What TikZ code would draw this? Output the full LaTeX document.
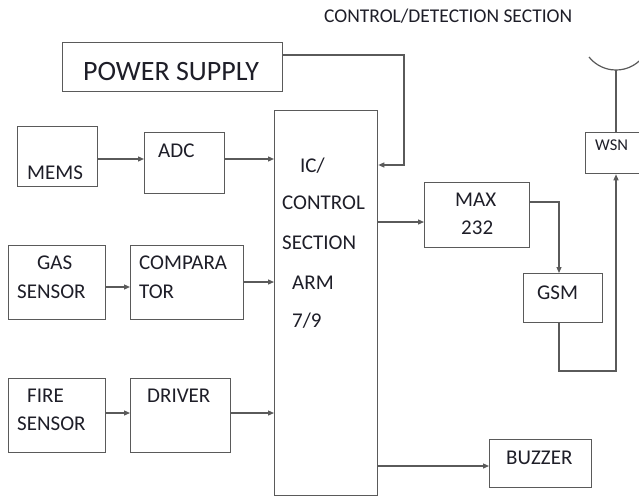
\documentclass[tikz,border=0pt]{standalone}
\usepackage{fontspec}
\setmainfont{Carlito}
\usetikzlibrary{arrows.meta}
\definecolor{linec}{HTML}{5A5A5A}
\definecolor{txtc}{HTML}{1E1E28}
\tikzset{
  blk/.style={draw=linec, line width=1.3pt, rectangle, inner sep=0pt, anchor=north west},
  lbl/.style={anchor=base west, inner sep=0pt, text=txtc, font=\fontsize{21}{21}\selectfont},
  wire/.style={draw=linec, line width=1.2pt},
  arr/.style={wire, -{Triangle[length=6pt,width=5pt]}, shorten >=0pt}
}
\begin{document}
\begin{tikzpicture}[x=1pt,y=-1pt]
\useasboundingbox (0,0) rectangle (639,497);
\clip (0,0) rectangle (639,497);
\fill[white] (0,0) rectangle (639,497);
% boxes
\node[blk, minimum width=220pt, minimum height=49pt] (power) at (62,42) {};
\node[blk, minimum width=80pt, minimum height=60pt] (mems) at (17,126) {};
\node[blk, minimum width=80pt, minimum height=61pt] (adc) at (144,132) {};
\node[blk, minimum width=103pt, minimum height=385pt] (ic) at (274,110) {};
\node[blk, minimum width=97pt, minimum height=74pt] (gas) at (8,245) {};
\node[blk, minimum width=113pt, minimum height=74pt] (comp) at (130,245) {};
\node[blk, minimum width=97pt, minimum height=74pt] (fire) at (8,378) {};
\node[blk, minimum width=100pt, minimum height=74pt] (driver) at (130,378) {};
\node[blk, minimum width=105pt, minimum height=65pt] (max) at (424,182) {};
\node[blk, minimum width=79pt, minimum height=49pt] (gsm) at (523,273) {};
\node[blk, minimum width=60pt, minimum height=41pt] (wsn) at (585,132) {};
\node[blk, minimum width=102pt, minimum height=48pt] (buzzer) at (489,439) {};
% texts
\node[lbl, font=\fontsize{19.5}{19.5}\selectfont] (title) at (324,23) {CONTROL/DETECTION SECTION};
\node[lbl, font=\fontsize{28}{28}\selectfont] (tpower) at (83,81) {POWER SUPPLY};
\node[lbl] (tmems) at (27,179) {MEMS};
\node[lbl] (tadc) at (158,158) {ADC};
\node[lbl] (tic1) at (300,172) {IC/};
\node[lbl] (tic2) at (282,209) {CONTROL};
\node[lbl] (tic3) at (282,249) {SECTION};
\node[lbl] (tic4) at (292,289) {ARM};
\node[lbl] (tic5) at (292,327) {7/9};
\node[lbl] (tgas1) at (37,269) {GAS};
\node[lbl] (tgas2) at (17,298) {SENSOR};
\node[lbl] (tcomp1) at (139,269) {COMPARA};
\node[lbl] (tcomp2) at (139,298) {TOR};
\node[lbl] (tfire1) at (27,402) {FIRE};
\node[lbl] (tfire2) at (17,430) {SENSOR};
\node[lbl] (tdriver) at (147,402) {DRIVER};
\node[lbl] (tmax1) at (455,206) {MAX};
\node[lbl] (tmax2) at (461,234) {232};
\node[lbl] (tgsm) at (537,299) {GSM};
\node[lbl, font=\fontsize{16.5}{16.5}\selectfont] (twsn) at (595,151) {WSN};
\node[lbl] (tbuzzer) at (506,464) {BUZZER};
% helper coordinates
\coordinate (y55) at (0,55);
\coordinate (pturn) at (404,55);
\coordinate (y165) at (0,165);
\coordinate (y159) at (0,159);
\coordinate (y287) at (0,287);
\coordinate (y282) at (0,282);
\coordinate (y413) at (0,413);
\coordinate (y222) at (0,222);
\coordinate (g1) at (559,202);
\coordinate (g2) at (559,371);
\coordinate (w1) at (616,371);
\coordinate (y466) at (0,466);
\coordinate (ant) at (616,70);
% connectors
\draw[arr] (power.east |- y55) -- (pturn) -- (pturn |- y165) -- (ic.east |- y165);
\draw[arr] (mems.east |- y159) -- (adc.west |- y159);
\draw[arr] (adc.east |- y159) -- (ic.west |- y159);
\draw[arr] (gas.east |- y287) -- (comp.west |- y287);
\draw[arr] (comp.east |- y282) -- (ic.west |- y282);
\draw[arr] (fire.east |- y413) -- (driver.west |- y413);
\draw[arr] (driver.east |- y413) -- (ic.west |- y413);
\draw[arr] (ic.east |- y222) -- (max.west |- y222);
\draw[arr] (max.east |- g1) -- (g1) -- (g1 |- gsm.north);
\draw[arr] (gsm.south -| g2) -- (g2) -- (w1) -- (w1 |- wsn.south);
\draw[arr] (ic.east |- y466) -- (buzzer.west |- y466);
% antenna
\draw[wire] (wsn.north -| ant) -- (ant);
\draw[wire] (643,57) arc[start angle=38.5, end angle=141.5, radius=34.5];
\end{tikzpicture}
\end{document}
